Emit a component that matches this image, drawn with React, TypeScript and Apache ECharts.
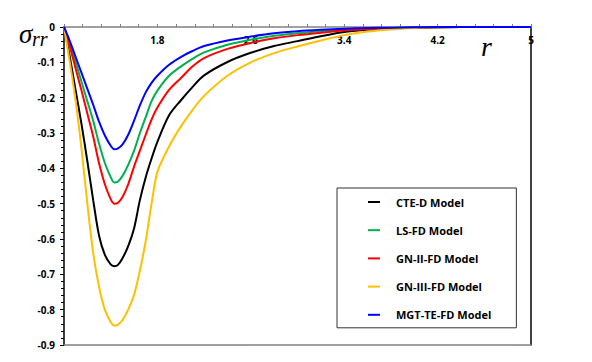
import React, { useEffect, useRef } from "react";
import * as echarts from "echarts";

const rValues = [1.0, 1.05, 1.1, 1.15, 1.2, 1.25, 1.3, 1.35, 1.4, 1.43, 1.46, 1.5, 1.55, 1.6, 1.65, 1.7, 1.75, 1.8, 1.9, 2.0, 2.1, 2.2, 2.4, 2.6, 2.8, 3.0, 3.2, 3.4, 3.6, 3.8, 4.0, 4.2, 4.6, 5.0];

const cteD = [0, -0.085, -0.18, -0.275, -0.38, -0.49, -0.59, -0.645, -0.672, -0.677, -0.674, -0.655, -0.62, -0.57, -0.49, -0.425, -0.372, -0.325, -0.25, -0.208, -0.17, -0.137, -0.099, -0.073, -0.054, -0.04, -0.026, -0.014, -0.008, -0.004, -0.002, -0.001, 0, 0];
const lsFD = [0, -0.048, -0.1, -0.155, -0.21, -0.265, -0.33, -0.385, -0.425, -0.44, -0.438, -0.422, -0.39, -0.35, -0.3, -0.255, -0.21, -0.18, -0.138, -0.112, -0.09, -0.072, -0.05, -0.036, -0.025, -0.018, -0.012, -0.008, -0.005, -0.003, -0.002, -0.001, 0, 0];
const gn2FD = [0, -0.056, -0.118, -0.18, -0.245, -0.31, -0.385, -0.445, -0.487, -0.5, -0.498, -0.482, -0.445, -0.395, -0.35, -0.305, -0.262, -0.228, -0.178, -0.145, -0.112, -0.088, -0.062, -0.045, -0.032, -0.023, -0.016, -0.01, -0.006, -0.003, -0.002, -0.001, 0, 0];
const gn3FD = [0, -0.1, -0.21, -0.345, -0.5, -0.64, -0.735, -0.8, -0.835, -0.845, -0.843, -0.83, -0.8, -0.758, -0.69, -0.605, -0.5, -0.41, -0.338, -0.282, -0.235, -0.195, -0.138, -0.1, -0.074, -0.055, -0.038, -0.023, -0.013, -0.007, -0.003, -0.001, 0, 0];
const mgtTEFD = [0, -0.04, -0.085, -0.13, -0.175, -0.22, -0.268, -0.307, -0.336, -0.346, -0.344, -0.333, -0.305, -0.265, -0.222, -0.185, -0.158, -0.138, -0.107, -0.085, -0.068, -0.054, -0.038, -0.027, -0.018, -0.012, -0.008, -0.005, -0.003, -0.002, -0.001, 0, 0, 0];

const seriesNames = ["CTE-D Model", "LS-FD Model", "GN-II-FD Model", "GN-III-FD Model", "MGT-TE-FD Model"];
const seriesValues = [cteD, lsFD, gn2FD, gn3FD, mgtTEFD];
const seriesColors = ["#000000", "#00B050", "#FF0000", "#FFC000", "#0000FF"];

const FONT = "'Open Sans', 'Liberation Sans', Arial, sans-serif";
const SERIF = "'Liberation Serif', serif";

export default function App() {
  const ref = useRef<HTMLDivElement>(null);
  useEffect(() => {
    if (!ref.current) return;
    const chart = echarts.init(ref.current, undefined, { renderer: "svg" });
    chart.setOption({
      animation: false,
      backgroundColor: "#ffffff",
      grid: { left: 64, top: 27, right: 61, bottom: 17, containLabel: false },
      xAxis: [
        {
          type: "value",
          position: "top",
          min: 1,
          max: 5,
          interval: 0.8,
          axisLine: { show: true, onZero: false, lineStyle: { color: "#808080", width: 1.5 } },
          axisTick: { show: true, inside: false, length: 3, lineStyle: { color: "#808080" } },
          minorTick: { show: true, splitNumber: 5, length: 3, lineStyle: { color: "#808080" } },
          axisLabel: {
            inside: true,
            margin: 8,
            showMinLabel: false,
            fontFamily: FONT,
            fontWeight: "bold",
            fontSize: 10,
            color: "#000",
            formatter: (v: number) => (Math.abs(v - 1) < 1e-9 ? "" : String(Math.round(v * 10) / 10)),
          },
          splitLine: { show: false },
        },
        {
          type: "value",
          position: "bottom",
          min: 1,
          max: 5,
          axisLine: { show: true, onZero: false, lineStyle: { color: "#808080", width: 1.5 } },
          axisTick: { show: false },
          axisLabel: { show: false },
          splitLine: { show: false },
        },
      ],
      yAxis: [
        {
          type: "value",
          position: "left",
          min: -0.9,
          max: 0,
          interval: 0.1,
          axisLine: { show: true, onZero: false, lineStyle: { color: "#000", width: 1.5 } },
          axisTick: { show: true, inside: false, length: 4, lineStyle: { color: "#000" } },
          minorTick: { show: true, splitNumber: 5, length: 3, lineStyle: { color: "#000" } },
          axisLabel: {
            margin: 9,
            fontFamily: FONT,
            fontWeight: "bold",
            fontSize: 10,
            color: "#000",
            formatter: (v: number) => (Math.abs(v) < 1e-9 ? "0" : (Math.round(v * 10) / 10).toFixed(1)),
          },
          splitLine: { show: false },
        },
        {
          type: "value",
          position: "right",
          min: -0.9,
          max: 0,
          axisLine: { show: true, onZero: false, lineStyle: { color: "#000", width: 1.5 } },
          axisTick: { show: false },
          axisLabel: { show: false },
          splitLine: { show: false },
        },
      ],
      legend: {
        orient: "vertical",
        left: 337,
        top: 188,
        icon: "rect",
        itemWidth: 12,
        itemHeight: 2,
        itemGap: 14.2,
        padding: [7, 25, 6, 31],
        borderColor: "#333",
        borderWidth: 1,
        textStyle: { fontFamily: FONT, fontWeight: "bold", fontSize: 11, lineHeight: 14, color: "#000", padding: [0, 0, 0, 11] },
        data: seriesNames,
      },
      graphic: [
        {
          type: "text",
          left: 19,
          top: 20,
          style: { text: "σ", fontFamily: SERIF, fontStyle: "italic", fontSize: 27, fill: "#000" },
        },
        {
          type: "text",
          left: 32,
          top: 29,
          style: { text: "rr", fontFamily: SERIF, fontStyle: "italic", fontSize: 20, fill: "#000" },
        },
        {
          type: "text",
          left: 481,
          top: 32,
          style: { text: "r", fontFamily: SERIF, fontStyle: "italic", fontSize: 28, fill: "#000" },
        },
      ],
      series: seriesNames.map((name, i) => ({
        name,
        type: "line",
        xAxisIndex: 0,
        yAxisIndex: 0,
        data: rValues.map((r, j) => [r, seriesValues[i][j]]),
        symbol: "none",
        smooth: 0.3,
        lineStyle: { color: seriesColors[i], width: 2 },
        itemStyle: { color: seriesColors[i] },
      })),
    });
    return () => chart.dispose();
  }, []);
  return <div ref={ref} style={{ position: "fixed", left: 0, top: 0, width: 592, height: 362 }} />;
}
